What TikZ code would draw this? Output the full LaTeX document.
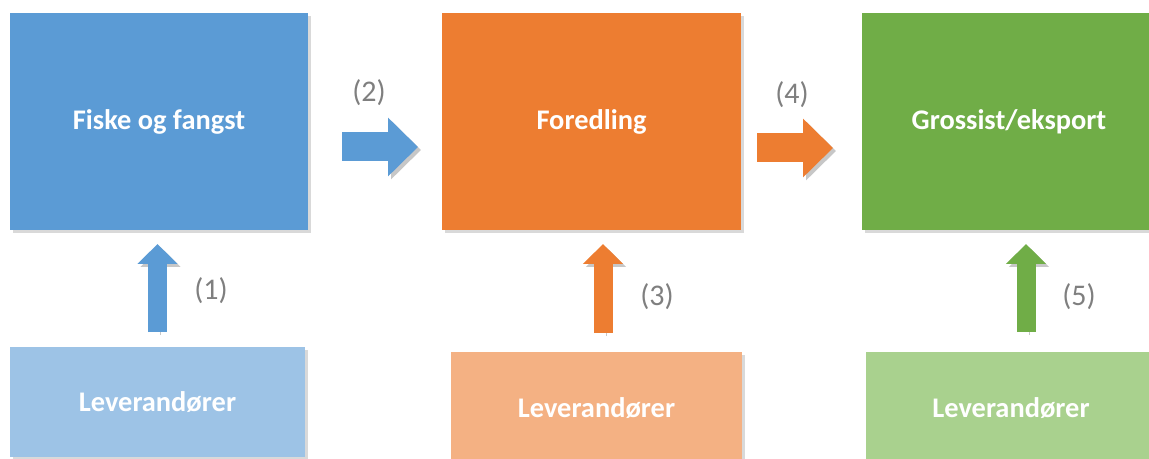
\documentclass[tikz,border=0pt]{standalone}
\usepackage{fontspec}
\setmainfont{Carlito}
\usepackage{tikz}
\usetikzlibrary{arrows.meta,shadows}

\definecolor{fiskeblue}{HTML}{5B9BD5}
\definecolor{lightblue}{HTML}{9DC3E6}
\definecolor{fordorange}{HTML}{ED7D31}
\definecolor{lightorange}{HTML}{F4B183}
\definecolor{grossgreen}{HTML}{70AD47}
\definecolor{lightgreen}{HTML}{A9D18E}
\definecolor{labelgray}{HTML}{7F7F7F}

\begin{document}
\begin{tikzpicture}[x=0.5pt,y=-0.5pt,
        box/.style={rectangle,outer sep=0pt,inner sep=0pt,text=white,
            font=\bfseries\fontsize{14.2}{16}\selectfont,
            drop shadow={shadow xshift=1.5pt,shadow yshift=-1.5pt,opacity=.3}},
        numlabel/.style={text=labelgray,font=\fontsize{15}{17}\selectfont},
        ashadow/.style={preaction={draw=black!22,transform canvas={xshift=1.5pt,yshift=-1.5pt}}},
        harrow/.style={ashadow,line width=14.5pt,-{Triangle[width=28.5pt,length=15pt]}},
        varrow/.style={ashadow,line width=9.5pt,-{Triangle[width=19.5pt,length=10pt]}}]
        \useasboundingbox(0,0)rectangle(1149,459);
        \clip(0,0)rectangle(1149,459);

        % top row
        \node[box,fill=fiskeblue,minimum width=149pt,minimum height=108.5pt](fiske)at(159,121.5){Fiske og fangst};
        \node[box,fill=fordorange,minimum width=149.5pt,minimum height=108.5pt](foredling)at(591.5,121.5){Foredling};
        \node[box,fill=grossgreen,minimum width=147pt,minimum height=108.5pt](grossist)at(1009,121.5){Grossist/eksport};

        % suppliers
        \node[box,fill=lightblue,minimum width=147.5pt,minimum height=55pt](lev1)at(157.5,402){Leverandører};
        \node[box,fill=lightorange,minimum width=145.5pt,minimum height=56pt](lev2)at(596.5,408){Leverandører};
        \node[box,fill=lightgreen,minimum width=145pt,minimum height=56pt](lev3)at(1011,408){Leverandører};

        % arrows
        \draw[harrow,draw=fiskeblue]([xshift=17pt,yshift=-12.75pt]fiske.east)--([xshift=-12pt,yshift=-12.75pt]foredling.west);
        \draw[harrow,draw=fordorange]([xshift=8pt,yshift=-13.25pt]foredling.east)--([xshift=-14.5pt,yshift=-13.25pt]grossist.west);
        \draw[varrow,draw=fiskeblue]([yshift=7.5pt]lev1.north)--([yshift=-7pt]lev1.north|-fiske.south);
        \draw[varrow,draw=fordorange]([xshift=3.25pt,yshift=9.5pt]lev2.north)--([xshift=3.25pt,yshift=-7pt]lev2.north|-foredling.south);
        \draw[varrow,draw=grossgreen]([xshift=7.5pt,yshift=10pt]lev3.north)--([xshift=7.5pt,yshift=-7pt]lev3.north|-grossist.south);

        % numbers
        \node[numlabel](n1)at(211,291){(1)};
        \node[numlabel](n2)at(369,93){(2)};
        \node[numlabel](n3)at(657,297){(3)};
        \node[numlabel](n4)at(792,95){(4)};
        \node[numlabel](n5)at(1079,297){(5)};
    \end{tikzpicture}
\end{document}
